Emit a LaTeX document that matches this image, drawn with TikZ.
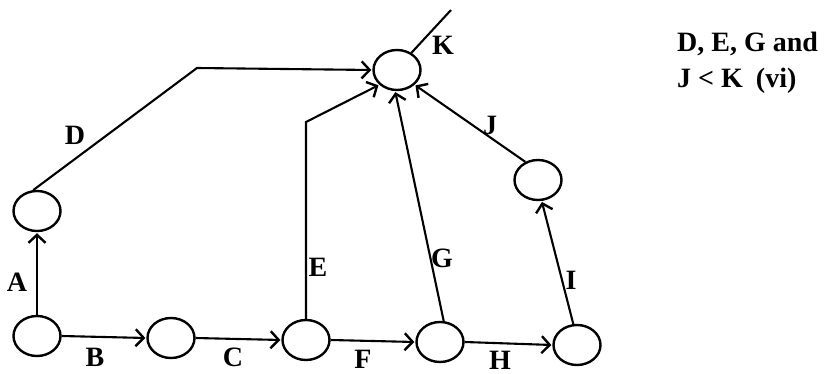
\documentclass[tikz,border=0pt]{standalone}
\usepackage{fontspec}
\setmainfont{Liberation Serif}
\usetikzlibrary{shapes.geometric,arrows.meta}
\begin{document}
\begin{tikzpicture}[x=1pt,y=-1pt,
  ev/.style={draw,ellipse,line width=2.4pt,minimum width=47pt,minimum height=40pt,inner sep=0pt},
  act/.style={line width=2.1pt,-{Straight Barb[length=8pt,width=17pt,line width=2.4pt]},shorten >=1pt},
  lab/.style={font=\fontsize{28}{30}\selectfont\bfseries,inner sep=0pt}]
\useasboundingbox (0,0) rectangle (829,374);
\node[ev] (n1) at (37,336) {};
\node[ev] (n2) at (171,338) {};
\node[ev] (n3) at (306,340) {};
\node[ev] (n4) at (440,342) {};
\node[ev] (n5) at (577,345) {};
\node[ev] (nA) at (37,211) {};
\node[ev] (nJ) at (538,180) {};
\node[ev] (K) at (397,70) {};
\coordinate (d1) at (197,68);
\coordinate (e1) at (306,122);
\coordinate (kend) at (451,10);
\draw[act] (n1) -- (nA);
\draw[act] (n1.east) -- (n2.west);
\draw[act] (n2.east) -- (n3.west);
\draw[act] (n3.east) -- (n4.west);
\draw[act] (n4.east) -- (n5.west);
\draw[act] (nA.100) -- (d1) -- (K.west);
\draw[act] (n3.north) -- (e1) -- (K.220);
\draw[act] (n4.80) -- (K.265);
\draw[act] (n5.100) -- (nJ.280);
\draw[act] (nJ.125) -- (K.320);
\draw[line width=2.1pt] (K.50) -- (kend);
\node[lab] (lA) at (17,282) {A};
\node[lab] (lB) at (95,357) {B};
\node[lab] (lC) at (233,357) {C};
\node[lab] (lD) at (75,135) {D};
\node[lab] (lE) at (318,267) {E};
\node[lab] (lF) at (363,359) {F};
\node[lab] (lG) at (442,258) {G};
\node[lab] (lH) at (500,360) {H};
\node[lab] (lI) at (571,280) {I};
\node[lab] (lJ) at (490,125) {J};
\node[lab] (lK) at (443,45) {K};
\node[lab,anchor=base west] (t1) at (677,52) {D, E, G and};
\node[lab,anchor=base west] (t2) at (677,88) {J < K \hspace{6pt}(vi)};
\end{tikzpicture}
\end{document}
